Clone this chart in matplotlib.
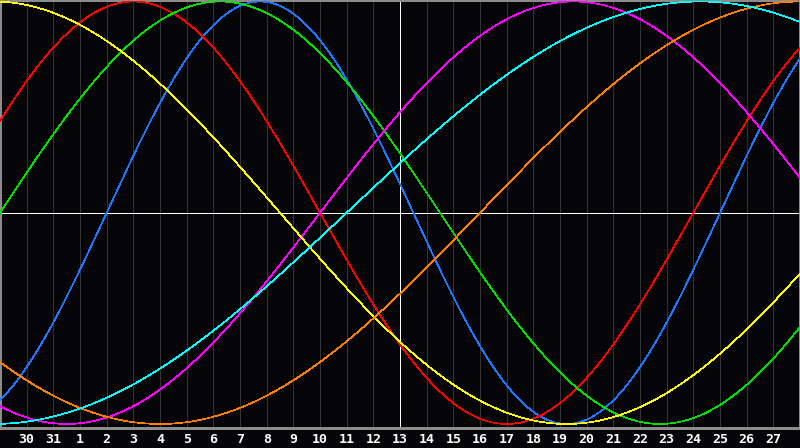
import numpy as np
import matplotlib

matplotlib.use("Agg")
import matplotlib.pyplot as plt

# ---- data (biorhythm cycles) ----
days_alive_at_left = 27918          # days since birth at the left edge (29th)
cycle_names = ["physical", "emotional", "intellectual", "intuitive",
               "aesthetic", "awareness", "spiritual"]
cycle_periods = [23, 28, 33, 38, 43, 48, 53]
cycle_colors = ["#1e78ff", "#ff0000", "#00e000", "#ff00ff",
                "#ffff00", "#ff8000", "#00ffff"]

day_labels = ["30", "31", "1", "2", "3", "4", "5", "6", "7", "8", "9", "10",
              "11", "12", "13", "14", "15", "16", "17", "18", "19", "20",
              "21", "22", "23", "24", "25", "26", "27"]
today_index = 15                    # the "13" column, white marker line

BG = "#050508"
GRID = "#333333"
BORDER = "#8c8c8c"
LW = 0.5                            # ~1 px at 100 dpi, aliased

W, H = 800, 448
PLOT_H = 428

fig = plt.figure(figsize=(W / 100, H / 100), dpi=100, facecolor=BG)
ax = fig.add_axes([0, (H - PLOT_H) / H, 1, PLOT_H / H])
ax.set_facecolor(BG)

n_days = len(day_labels) + 1
ax.set_xlim(0, n_days)
ax.set_ylim(-1.019, 1.007)

# vertical day grid
for k in range(1, n_days):
    ax.axvline(k, color=GRID, linewidth=LW, antialiased=False, zorder=1)

# curves
t = np.linspace(0, n_days, 1601)
for name, period, color in zip(cycle_names, cycle_periods, cycle_colors):
    v = np.sin(2 * np.pi * (days_alive_at_left + t) / period)
    ax.plot(t, v, color=color, linewidth=LW, antialiased=False, zorder=3)

# zero line and today marker
ax.axhline(0, color="white", linewidth=LW, antialiased=False, zorder=2)
ax.axvline(today_index, color="white", linewidth=LW, antialiased=False, zorder=2)

ax.set_xticks([])
ax.set_yticks([])
for spine in ax.spines.values():
    spine.set_edgecolor(BORDER)
    spine.set_linewidth(1.0)
    spine.set_antialiased(False)

# day labels under the plot
for i, lab in enumerate(day_labels):
    k = i + 1
    fig.text(k / n_days, (H - 439) / H, lab, color="white",
             fontsize=9.5, fontweight="bold", family="DejaVu Sans Mono",
             ha="center", va="center")

fig.savefig("out.png", dpi=100, facecolor=BG)
